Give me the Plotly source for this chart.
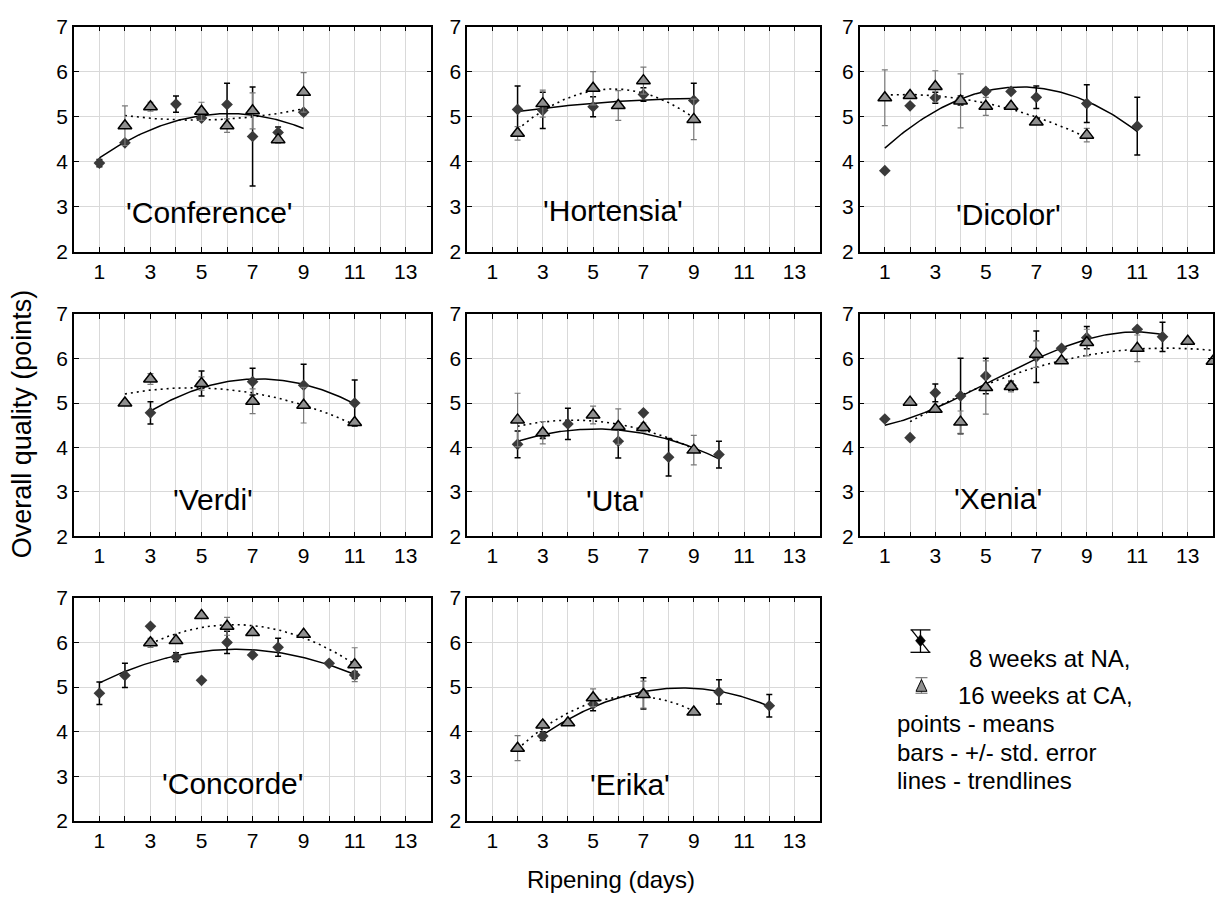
import numpy as np
import plotly.graph_objects as go

# ---------------- data ----------------
CULTIVARS = ["'Conference'", "'Hortensia'", "'Dicolor'", "'Verdi'",
             "'Uta'", "'Xenia'", "'Concorde'", "'Erika'"]

CONF_NA_DAY = [1, 2, 4, 5, 6, 7, 8, 9]
CONF_NA_MEAN = [3.97, 4.42, 5.28, 4.97, 5.27, 4.56, 4.65, 5.10]
CONF_NA_SE = [0.08, 0.05, 0.18, 0.05, 0.47, 1.10, 0.12, 0.05]
CONF_CA_DAY = [2, 3, 5, 6, 7, 8, 9]
CONF_CA_MEAN = [4.80, 5.22, 5.12, 4.80, 5.13, 4.49, 5.54]
CONF_CA_SE = [0.44, 0.10, 0.20, 0.15, 0.40, 0.08, 0.44]

HORT_NA_DAY = [2, 3, 5, 7, 9]
HORT_NA_MEAN = [5.16, 5.14, 5.22, 5.49, 5.36]
HORT_NA_SE = [0.52, 0.40, 0.22, 0.15, 0.38]
HORT_CA_DAY = [2, 3, 5, 6, 7, 9]
HORT_CA_MEAN = [4.63, 5.29, 5.63, 5.25, 5.80, 4.94]
HORT_CA_SE = [0.15, 0.30, 0.37, 0.33, 0.30, 0.45]

DICO_NA_DAY = [1, 2, 3, 4, 5, 6, 7, 9, 11]
DICO_NA_MEAN = [3.80, 5.24, 5.42, 5.36, 5.56, 5.56, 5.43, 5.29, 4.79]
DICO_NA_SE = [0.02, 0.03, 0.12, 0.10, 0.05, 0.03, 0.25, 0.42, 0.64]
DICO_CA_DAY = [1, 2, 3, 4, 5, 6, 7, 9]
DICO_CA_MEAN = [5.42, 5.47, 5.67, 5.35, 5.23, 5.23, 4.88, 4.59]
DICO_CA_SE = [0.62, 0.05, 0.35, 0.60, 0.20, 0.05, 0.05, 0.15]

VERD_NA_DAY = [3, 5, 7, 9, 11]
VERD_NA_MEAN = [4.78, 5.44, 5.48, 5.40, 5.00]
VERD_NA_SE = [0.25, 0.28, 0.30, 0.47, 0.52]
VERD_CA_DAY = [2, 3, 5, 7, 9, 11]
VERD_CA_MEAN = [5.00, 5.54, 5.44, 5.04, 4.95, 4.56]
VERD_CA_SE = [0.03, 0.12, 0.15, 0.28, 0.40, 0.06]

UTA_NA_DAY = [2, 3, 4, 6, 7, 8, 10]
UTA_NA_MEAN = [4.07, 4.30, 4.53, 4.14, 4.78, 3.78, 3.84]
UTA_NA_SE = [0.30, 0.10, 0.35, 0.38, 0.03, 0.42, 0.30]
UTA_CA_DAY = [2, 3, 5, 6, 7, 9]
UTA_CA_MEAN = [4.62, 4.33, 4.73, 4.47, 4.45, 3.94]
UTA_CA_SE = [0.60, 0.25, 0.20, 0.40, 0.10, 0.33]

XEN_NA_DAY = [1, 2, 3, 4, 5, 6, 7, 8, 9, 11, 12]
XEN_NA_MEAN = [4.64, 4.22, 5.23, 5.16, 5.61, 5.39, 6.04, 6.23, 6.47, 6.66, 6.49]
XEN_NA_SE = [0.02, 0.02, 0.20, 0.85, 0.40, 0.10, 0.58, 0.03, 0.25, 0.03, 0.33]
XEN_CA_DAY = [2, 3, 4, 5, 6, 7, 8, 9, 11, 13, 14]
XEN_CA_MEAN = [5.02, 4.86, 4.57, 5.35, 5.37, 6.10, 5.95, 6.36, 6.23, 6.39, 5.94]
XEN_CA_SE = [0.02, 0.06, 0.25, 0.60, 0.12, 0.30, 0.05, 0.30, 0.30, 0.05, 0.05]

CONC_NA_DAY = [1, 2, 3, 4, 5, 6, 7, 8, 10, 11]
CONC_NA_MEAN = [4.86, 5.26, 6.36, 5.67, 5.15, 6.00, 5.72, 5.89, 5.53, 5.27]
CONC_NA_SE = [0.25, 0.27, 0.02, 0.10, 0.02, 0.25, 0.02, 0.20, 0.02, 0.08]
CONC_CA_DAY = [3, 4, 5, 6, 7, 9, 11]
CONC_CA_MEAN = [5.99, 6.04, 6.60, 6.36, 6.22, 6.18, 5.50]
CONC_CA_SE = [0.10, 0.05, 0.05, 0.20, 0.05, 0.05, 0.38]

ERIK_NA_DAY = [3, 5, 7, 10, 12]
ERIK_NA_MEAN = [3.90, 4.62, 4.86, 4.89, 4.58]
ERIK_NA_SE = [0.10, 0.15, 0.35, 0.27, 0.25]
ERIK_CA_DAY = [2, 3, 4, 5, 7, 9]
ERIK_CA_MEAN = [3.63, 4.15, 4.20, 4.76, 4.83, 4.44]
ERIK_CA_SE = [0.28, 0.05, 0.05, 0.20, 0.30, 0.05]

# polynomial order of each trendline (NA, CA)
NA_TREND_ORDER = [2, 2, 2, 2, 2, 3, 2, 2]
CA_TREND_ORDER = [2, 2, 2, 2, 2, 2, 2, 2]

X_TICKS = [1, 3, 5, 7, 9, 11, 13]
Y_TICKS = [2, 3, 4, 5, 6, 7]

LEGEND_LINES = ["8 weeks at NA,", "16 weeks at CA,", "points - means",
                "bars - +/- std. error", "lines - trendlines"]

PANELS = [
    (CONF_NA_DAY, CONF_NA_MEAN, CONF_NA_SE, CONF_CA_DAY, CONF_CA_MEAN, CONF_CA_SE),
    (HORT_NA_DAY, HORT_NA_MEAN, HORT_NA_SE, HORT_CA_DAY, HORT_CA_MEAN, HORT_CA_SE),
    (DICO_NA_DAY, DICO_NA_MEAN, DICO_NA_SE, DICO_CA_DAY, DICO_CA_MEAN, DICO_CA_SE),
    (VERD_NA_DAY, VERD_NA_MEAN, VERD_NA_SE, VERD_CA_DAY, VERD_CA_MEAN, VERD_CA_SE),
    (UTA_NA_DAY, UTA_NA_MEAN, UTA_NA_SE, UTA_CA_DAY, UTA_CA_MEAN, UTA_CA_SE),
    (XEN_NA_DAY, XEN_NA_MEAN, XEN_NA_SE, XEN_CA_DAY, XEN_CA_MEAN, XEN_CA_SE),
    (CONC_NA_DAY, CONC_NA_MEAN, CONC_NA_SE, CONC_CA_DAY, CONC_CA_MEAN, CONC_CA_SE),
    (ERIK_NA_DAY, ERIK_NA_MEAN, ERIK_NA_SE, ERIK_CA_DAY, ERIK_CA_MEAN, ERIK_CA_SE),
]

# ---------------- layout / style ----------------
W, H = 1215, 906
FONT = "Arial, 'Liberation Sans', sans-serif"
COL_PX = [(74, 432), (468, 821), (861, 1215)]
ROW_PX = [(15, 246), (310, 538), (601, 830)]
LABEL_POS = [(5.3, 2.87), (5.8, 2.92), (5.9, 2.82), (5.46, 2.83),
             (5.88, 2.8), (5.5, 2.86), (6.24, 2.83), (6.47, 2.81)]

NA_MARKER = "#3a3a3a"
CA_MARKER = "#8f8f8f"
GRID = "#d9d9d9"

fig = go.Figure()
layout = dict(
    width=W, height=H, margin=dict(l=0, r=0, t=0, b=0),
    paper_bgcolor="white", plot_bgcolor="white", showlegend=False,
    font=dict(family=FONT, color="black"),
)
annotations = []

for i, (na_x, na_y, na_e, ca_x, ca_y, ca_e) in enumerate(PANELS):
    r, c = divmod(i, 3)
    k = "" if i == 0 else str(i + 1)
    xa, ya = "x" + k, "y" + k
    x0, x1 = COL_PX[c]
    y0, y1 = ROW_PX[r]
    layout["xaxis" + k] = dict(
        domain=[x0 / W, x1 / W], anchor=ya, range=[0, 14],
        tickvals=X_TICKS, ticks="inside", ticklen=5, tickwidth=1, tickcolor="black",
        showline=True, linecolor="black", linewidth=1.5, mirror="ticks",
        showgrid=True, gridcolor=GRID, gridwidth=1, zeroline=False,
        minor=dict(dtick=1, tick0=0, ticks="inside", ticklen=5, tickcolor="black",
                   showgrid=True, gridcolor=GRID, gridwidth=1),
        tickfont=dict(size=21, family=FONT, color="black"),
    )
    layout["yaxis" + k] = dict(
        domain=[1 - y1 / H, 1 - y0 / H], anchor=xa, range=[2, 7],
        tickvals=Y_TICKS, ticks="inside", ticklen=5, tickwidth=1, tickcolor="black",
        showline=True, linecolor="black", linewidth=1.5, mirror="ticks",
        showgrid=True, gridcolor=GRID, gridwidth=1, zeroline=False,
        tickfont=dict(size=21, family=FONT, color="black"),
    )

    # trendlines (least-squares polynomial through the means)
    for xs, ys, order, dash, lw in ((na_x, na_y, NA_TREND_ORDER[i], "solid", 1.5),
                                    (ca_x, ca_y, CA_TREND_ORDER[i], "2px,4px", 1.6)):
        coef = np.polyfit(xs, ys, order)
        xx = np.linspace(min(xs), max(xs), 120)
        fig.add_trace(go.Scatter(
            x=xx, y=np.polyval(coef, xx), mode="lines", xaxis=xa, yaxis=ya,
            line=dict(color="black", width=lw, dash=dash), hoverinfo="skip"))

    # NA means with std. error bars
    fig.add_trace(go.Scatter(
        x=na_x, y=na_y, mode="markers", xaxis=xa, yaxis=ya,
        marker=dict(symbol="diamond", size=9, color=NA_MARKER, line=dict(width=0)),
        error_y=dict(type="data", array=na_e, color="black", thickness=1.5, width=3)))
    # CA means with std. error bars
    fig.add_trace(go.Scatter(
        x=ca_x, y=ca_y, mode="markers", xaxis=xa, yaxis=ya,
        marker=dict(symbol="triangle-up", size=12, color=CA_MARKER,
                    line=dict(width=1.5, color="black")),
        error_y=dict(type="data", array=ca_e, color="#7a7a7a", thickness=1.2, width=3)))

    lx, ly = LABEL_POS[i]
    annotations.append(dict(x=lx, y=ly, xref=xa, yref=ya, text=CULTIVARS[i],
                            showarrow=False, xanchor="center", yanchor="middle",
                            font=dict(size=30, family=FONT, color="black")))

# ---------------- legend (drawn with shapes in paper units) ----------------
def px(x):
    return x / W


def py(y):
    return 1 - y / H


def seg(xa_, ya_, xb_, yb_, color="black", width=1.3):
    return dict(type="line", xref="paper", yref="paper",
                x0=px(xa_), y0=py(ya_), x1=px(xb_), y1=py(yb_),
                line=dict(color=color, width=width))


shapes = []
# NA symbol: whisker with caps, diagonal, diamond
shapes += [seg(912, 634, 932, 634), seg(912, 657, 932, 657), seg(922, 634, 922, 657),
           seg(913, 634, 931, 657)]
dx, dy = 5 / W, 6 / H
cx, cy = px(922), py(645)
shapes.append(dict(type="path", xref="paper", yref="paper",
                   path=f"M {cx} {cy + dy} L {cx + dx} {cy} L {cx} {cy - dy} L {cx - dx} {cy} Z",
                   fillcolor="black", line=dict(color="black", width=0.5)))
# CA symbol: gray whisker with caps and triangle
shapes += [seg(917, 683, 929, 683, "#7a7a7a", 1.2), seg(917, 699, 929, 699, "#7a7a7a", 1.2),
           seg(923, 683, 923, 699, "#7a7a7a", 1.2)]
tx, ty1, ty2 = px(923), py(685), py(697)
shapes.append(dict(type="path", xref="paper", yref="paper",
                   path=f"M {tx} {ty1} L {tx + 5.5 / W} {ty2} L {tx - 5.5 / W} {ty2} Z",
                   fillcolor=CA_MARKER, line=dict(color="black", width=1)))

LEG_POS = [(970, 663), (959, 701), (897, 730), (897, 759.5), (897, 789)]
for (lx_, ly_), txt in zip(LEG_POS, LEGEND_LINES):
    annotations.append(dict(x=px(lx_), y=py(ly_), xref="paper", yref="paper", text=txt,
                            showarrow=False, xanchor="left", yanchor="middle",
                            borderpad=0, font=dict(size=24, family=FONT, color="black")))

# axis titles
annotations.append(dict(x=px(22), y=py(422), xref="paper", yref="paper",
                        text="Overall quality (points)", textangle=-90, showarrow=False,
                        xanchor="center", yanchor="middle",
                        font=dict(size=27, family=FONT, color="black")))
annotations.append(dict(x=px(612), y=py(890), xref="paper", yref="paper",
                        text="Ripening (days)", showarrow=False,
                        xanchor="center", yanchor="middle",
                        font=dict(size=24, family=FONT, color="black")))

layout["annotations"] = annotations
layout["shapes"] = shapes
fig.update_layout(**layout)
fig.write_html("out.html")
